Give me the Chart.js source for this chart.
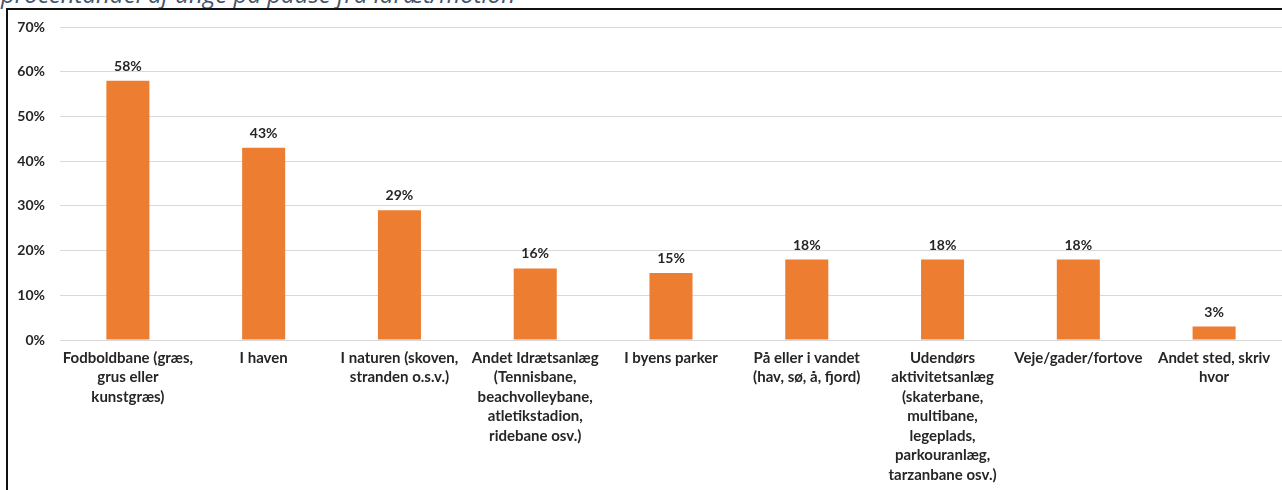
<!DOCTYPE html>
<html lang="da">
<head>
<meta charset="utf-8">
<title>Steder for idræt/motion</title>
<script src="https://cdn.jsdelivr.net/npm/chart.js@4.4.1/dist/chart.umd.min.js"></script>
<style>
  html, body { margin: 0; padding: 0; background: #fff; overflow: hidden; }
  #wrap { position: relative; width: 1282px; height: 490px; overflow: hidden; }
  #frame { position: absolute; left: 6px; top: 8px; width: 1400px; height: 600px;
           border: 2px solid #111; box-sizing: border-box; }
  #heading { position: absolute; left: 1px; top: -18px; white-space: nowrap;
             font-family: "Open Sans", sans-serif; font-style: italic; font-size: 24px;
             line-height: 24px; color: #44546A; }
  #c { position: absolute; left: 0; top: 0; }
</style>
</head>
<body>
<div id="wrap">
  <div id="heading">procentandel af unge på pause fra idræt/motion</div>
  <div id="frame"></div>
  <canvas id="c" width="1282" height="490"></canvas>
</div>
<script>
// Places where young people on a break from sport/exercise are active (share, %)
const categories = [
  ["Fodboldbane (græs,", "grus eller", "kunstgræs)"],
  ["I haven"],
  ["I naturen (skoven,", "stranden o.s.v.)"],
  ["Andet Idrætsanlæg", "(Tennisbane,", "beachvolleybane,", "atletikstadion,", "ridebane osv.)"],
  ["I byens parker"],
  ["På eller i vandet", "(hav, sø, å, fjord)"],
  ["Udendørs", "aktivitetsanlæg", "(skaterbane,", "multibane,", "legeplads,", "parkouranlæg,", "tarzanbane osv.)"],
  ["Veje/gader/fortove"],
  ["Andet sted, skriv", "hvor"]
];
const shares = [58, 43, 29, 16, 15, 18, 18, 18, 3];
const yTicks = [0, 10, 20, 30, 40, 50, 60, 70];

const FONT = "Lato";
const TEXT = "#262626";

// Value labels drawn above each bar
const valueLabels = {
  id: "valueLabels",
  afterDatasetsDraw(chart) {
    const ctx = chart.ctx;
    const meta = chart.getDatasetMeta(0);
    ctx.save();
    ctx.font = "bold 14px " + FONT;
    ctx.fillStyle = TEXT;
    ctx.textAlign = "center";
    ctx.textBaseline = "alphabetic";
    meta.data.forEach((bar, i) => {
      ctx.fillText(shares[i] + "%", bar.x, bar.y - 10);
    });
    ctx.restore();
  }
};

new Chart(document.getElementById("c"), {
  type: "bar",
  data: {
    labels: categories,
    datasets: [{
      data: shares,
      backgroundColor: "#ED7D31",
      borderWidth: 0,
      barPercentage: 1,
      categoryPercentage: 0.317
    }]
  },
  options: {
    responsive: false,
    animation: false,
    devicePixelRatio: 1,
    layout: { padding: { top: 27, left: 0, right: 0, bottom: 0 } },
    plugins: { legend: { display: false }, tooltip: { enabled: false }, title: { display: false } },
    scales: {
      x: {
        grid: { display: false, drawTicks: false },
        border: { display: true, color: "#d9d9d9", width: 1 },
        ticks: {
          autoSkip: false, maxRotation: 0, minRotation: 0, padding: 8,
          color: TEXT,
          font: { family: FONT, weight: "bold", size: 15, lineHeight: "19.5px" }
        },
        afterFit(scale) { scale.height = 150; }
      },
      y: {
        min: 0, max: 70,
        afterBuildTicks(scale) { scale.ticks = yTicks.map(v => ({ value: v })); },
        grid: { color: "#d9d9d9", lineWidth: 1, drawTicks: false },
        border: { display: false },
        ticks: {
          padding: 15, color: TEXT,
          font: { family: FONT, weight: "bold", size: 14 },
          callback: v => v + "%"
        },
        afterFit(scale) { scale.width = 60; }
      }
    }
  },
  plugins: [valueLabels]
});
</script>
</body>
</html>
